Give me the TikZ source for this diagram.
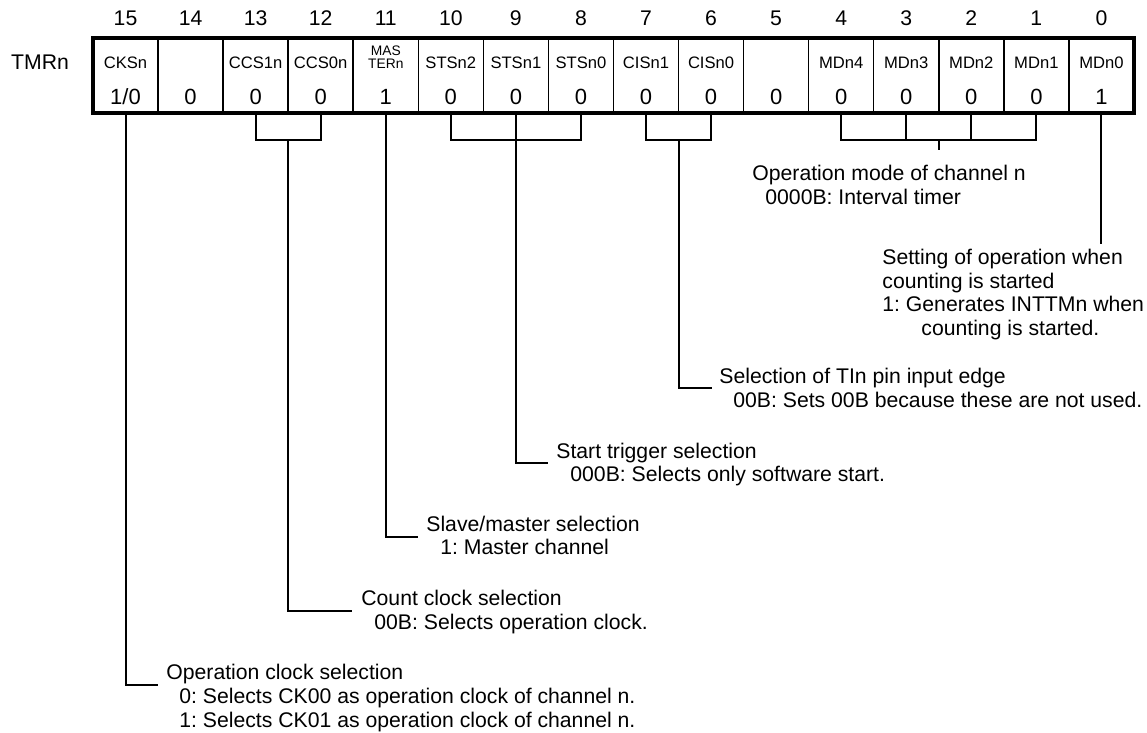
\documentclass[tikz,border=0pt]{standalone}
\usepackage{fontspec}
\setmainfont{Liberation Sans}
\frenchspacing
\begin{document}
\begin{tikzpicture}[x=0.5pt,y=-0.5pt,
  cell/.style={draw,line width=0.75pt,minimum width=32.53pt,minimum height=37.5pt,inner sep=0pt,outer sep=0pt},
  fname/.style={font=\fontsize{8.3}{9}\selectfont,inner sep=0pt},
  fnamesmall/.style={font=\fontsize{6.9}{6.2}\selectfont,inner sep=0pt,align=center},
  val/.style={font=\fontsize{11}{12}\selectfont,inner sep=0pt},
  bitno/.style={font=\fontsize{10.6}{12}\selectfont,inner sep=0pt},
  note/.style={font=\fontsize{10.6}{12}\selectfont,inner sep=0pt,anchor=base west},
  conn/.style={line width=1pt},
  frame/.style={line width=2.2pt}]
\useasboundingbox (0,0) rectangle (1147,733);
% register cells
\foreach \b/\f/\v in {15/CKSn/1\slash 0,14//0,13/CCS1n/0,12/CCS0n/0,11//1,10/STSn2/0,9/STSn1/0,8/STSn0/0,7/CISn1/0,6/CISn0/0,5//0,4/MDn4/0,3/MDn3/0,2/MDn2/0,1/MDn1/0,0/MDn0/1}{
  \pgfmathsetmacro\xc{93+(15.5-\b)*65.06}
  \node[cell] (c\b) at (\xc,75.5) {};
  \node[bitno] (n\b) at (\xc,18) {\b};
  \node[fname] (f\b) at (\xc,63) {\f};
  \node[val] (v\b) at (\xc,97) {\v};
}
\node[fnamesmall] (master) at (385.8,57) {MAS\\TERn};
\draw[frame] (c15.north west) rectangle (c0.south east);
\node[bitno] (reg) at (40,62) {TMRn};
% bracket level
\coordinate (br) at (0,140);
% MD bracket
\draw[conn] (c4.south) -- (c4.south |- br) -- (c1.south |- br) -- (c1.south);
\draw[conn] (c3.south) -- (c3.south |- br);
\draw[conn] (c2.south) -- (c2.south |- br);
\coordinate (mdend) at (0,150);
\draw[conn] (c3.south east |- br) -- (c3.south east |- mdend);
\node[note] (md1) at (752,180.5) {Operation mode of channel n};
\node[note] (md2) at (765,204.5) {0000B: Interval timer};
% MD0
\coordinate (md0end) at (0,244);
\draw[conn] (c0.south) -- (c0.south |- md0end);
\node[note] (s1) at (882,264.5) {Setting of operation when};
\node[note] (s2) at (882,288) {counting is started};
\node[note] (s3) at (882,311.5) {1: Generates INTTMn when};
\node[note] (s4) at (921,335.5) {counting is started.};
% CIS
\draw[conn] (c7.south) -- (c7.south |- br) -- (c6.south |- br) -- (c6.south);
\coordinate (cisend) at (711.6,388);
\draw[conn] (c7.south east |- br) |- (cisend);
\node[note] (ci1) at (719,383.5) {Selection of TIn pin input edge};
\node[note] (ci2) at (733,407.5) {00B: Sets 00B because these are not used.};
% STS
\draw[conn] (c10.south) -- (c10.south |- br) -- (c8.south |- br) -- (c8.south);
\coordinate (stsend) at (548,463);
\draw[conn] (c9.south) |- (stsend);
\node[note] (st1) at (556,458.5) {Start trigger selection};
\node[note] (st2) at (570,481.5) {000B: Selects only software start.};
% MASTER
\coordinate (masend) at (417.5,537);
\draw[conn] (c11.south) |- (masend);
\node[note] (ma1) at (426,531.5) {Slave/master selection};
\node[note] (ma2) at (440,554.5) {1: Master channel};
% CCS
\draw[conn] (c13.south) -- (c13.south |- br) -- (c12.south |- br) -- (c12.south);
\coordinate (ccsend) at (352,611);
\draw[conn] (c13.south east |- br) |- (ccsend);
\node[note] (cc1) at (361,605.5) {Count clock selection};
\node[note] (cc2) at (374,629.5) {00B: Selects operation clock.};
% CKS
\coordinate (cksend) at (158,685);
\draw[conn] (c15.south) |- (cksend);
\node[note] (ck1) at (166,679.5) {Operation clock selection};
\node[note] (ck2) at (179,703.5) {0: Selects CK00 as operation clock of channel n.};
\node[note] (ck3) at (179,727.5) {1: Selects CK01 as operation clock of channel n.};
\end{tikzpicture}
\end{document}
